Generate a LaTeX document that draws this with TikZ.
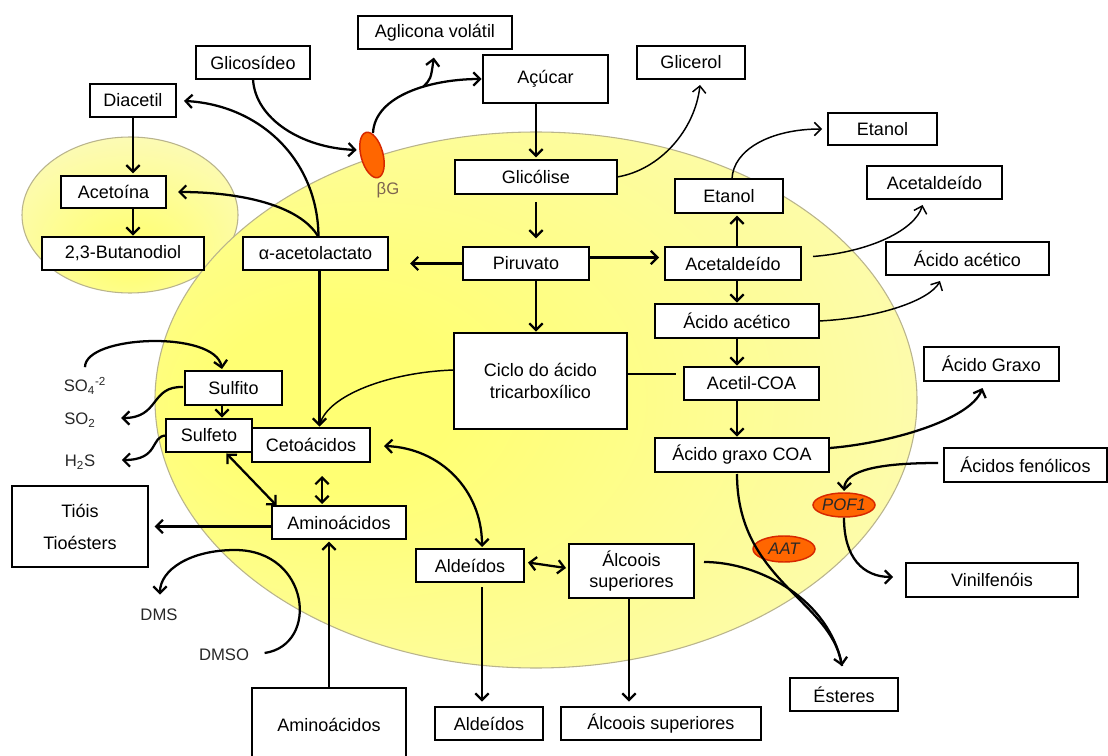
\documentclass[tikz,border=0pt]{standalone}
\usepackage{fontspec}
\setmainfont{Liberation Sans}
\usetikzlibrary{arrows.meta,shapes.geometric,calc}
\definecolor{cin}{RGB}{255,255,115}
\definecolor{cout}{RGB}{251,249,208}
\definecolor{cellline}{RGB}{185,180,140}
\definecolor{enzfill}{RGB}{255,102,0}
\definecolor{enzline}{RGB}{215,40,0}
\definecolor{bgtext}{RGB}{125,100,80}
\definecolor{labtext}{RGB}{40,40,40}
\pgfdeclareradialshading{cellshade}{\pgfpoint{-15bp}{0bp}}{color(0bp)=(cin); color(8bp)=(cin); color(50bp)=(cout); color(75bp)=(cout)}
\pgfdeclareradialshading{smallshade}{\pgfpoint{0bp}{-14bp}}{color(0bp)=(cin); color(4bp)=(cin); color(45bp)=(cout); color(75bp)=(cout)}
\newcommand{\bx}[6]{\node[box, minimum width={(#4-#2)*0.75pt}, minimum height={(#5-#3)*0.75pt}] (#1) at ({(#2+#4)/2},{(#3+#5)/2}) {#6};}
\begin{document}
\begin{tikzpicture}[x=0.75pt,y=-0.75pt,
  box/.style={draw, line width=1.25pt, fill=white, inner sep=0pt, outer sep=0pt, align=center, font=\fontsize{13.5}{16}\selectfont},
  ln/.style={line width=1.7pt},
  thinln/.style={line width=1.1pt},
  lab/.style={font=\fontsize{12.5}{14}\selectfont, text=labtext, inner sep=1pt},
  enz/.style={ellipse, draw=enzline, line width=1.1pt, fill=enzfill, inner sep=0pt, text=labtext, font=\fontsize{12.5}{14}\selectfont\itshape},
  >={Straight Barb[length=5pt,width=10pt]}
]
\useasboundingbox (0,0) rectangle (1108,756);
\fill[white] (0,0) rectangle (1108,756);
% cells
\shade[shading=smallshade] (130,215) ellipse [x radius=81pt, y radius=58.5pt];
\draw[cellline, line width=0.8pt] (130,215) ellipse [x radius=81pt, y radius=58.5pt];
\shade[shading=cellshade] (536,400) ellipse [x radius=285.75pt, y radius=201pt];
\draw[cellline, line width=0.8pt] (536,400) ellipse [x radius=285.75pt, y radius=201pt];

% boxes
\bx{agl}{358}{16}{512}{49}{Aglicona volátil}
\bx{gls}{196}{46}{310}{79}{Glicosídeo}
\bx{dia}{90}{84}{176}{117}{Diacetil}
\bx{aco}{61}{176}{166}{208}{Acetoína}
\bx{but}{42}{237}{204}{270}{2,3-Butanodiol}
\bx{ala}{243}{237}{388}{270}{α-acetolactato}
\bx{acu}{483}{55}{608}{103}{Açúcar}
\bx{gcr}{637}{46}{745}{79}{Glicerol}
\bx{gli}{455}{160}{617}{194}{Glicólise}
\bx{eti}{675}{179}{783}{213}{Etanol}
\bx{eto}{828}{113}{937}{145}{Etanol}
\bx{alo}{867}{166}{1002}{199}{Acetaldeído}
\bx{aao}{886}{242}{1049}{275}{Ácido acético}
\bx{agx}{924}{347}{1059}{381}{Ácido Graxo}
\bx{pir}{463}{247}{589}{280}{Piruvato}
\bx{ali}{665}{247}{801}{280}{Acetaldeído}
\bx{aai}{655}{304}{819}{338}{Ácido acético}
\bx{acl}{684}{367}{819}{400}{Acetil-COA}
\bx{agc}{655}{438}{829}{472}{Ácido graxo COA}
\bx{cic}{454}{333}{627}{429}{Ciclo do ácido\\tricarboxílico}
\bx{sfi}{185}{371}{282}{405}{Sulfito}
\bx{sfe}{166}{419}{252}{452}{Sulfeto}
\bx{cet}{252}{428}{370}{462}{Cetoácidos}
\bx{ami}{272}{506}{406}{539}{Aminoácidos}
\bx{tio}{12}{486}{148}{567}{Tióis\\[8pt]Tioésters}
\bx{amb}{252}{688}{406}{762}{Aminoácidos}
\bx{ldi}{416}{549}{524}{582}{Aldeídos}
\bx{lci}{569}{544}{694}{598}{Álcoois\\superiores}
\bx{ldo}{435}{707}{543}{740}{Aldeídos}
\bx{lco}{561}{707}{761}{740}{Álcoois superiores}
\bx{est}{790}{678}{898}{711}{Ésteres}
\bx{vin}{906}{563}{1078}{597}{Vinilfenóis}
\bx{afe}{944}{448}{1107}{482}{Ácidos fenólicos}

% plain labels
\node[lab] (so4) at (85,386) {SO\textsubscript{4}\textsuperscript{-2}};
\node[lab] (so2) at (80,420) {SO\textsubscript{2}};
\node[lab] (h2s) at (80,462) {H\textsubscript{2}S};
\node[lab] (dms) at (159,615) {DMS};
\node[lab] (dmso) at (224,655) {DMSO};

% enzymes
\node[enz, minimum width=16.5pt, minimum height=35pt, rotate=15] (bg) at (372,155) {};
\node[font=\fontsize{12.5}{14}\selectfont, text=bgtext] (bgl) at (388,190) {βG};
\node[enz, minimum width=46.5pt, minimum height=18pt] (pof) at (844,505) {POF1};
\node[enz, minimum width=46.5pt, minimum height=19.5pt] (aat) at (784,549) {AAT};

% connectors (top-left)
\draw[ln,->,shorten >=1pt] (gls.south) .. controls +(2,40) and +(-56,-2) .. ($(bg.center)+(-14,-5)$);
\draw[ln,->,shorten >=1pt] ($(bg.center)+(1,-22)$)
   .. controls +(2,-38) and +(-51,0) .. (acu.west) coordinate[pos=0.6] (br);
\draw[ln,->,shorten >=6.5pt] (br) .. controls +(8,-8) .. (agl.south);
\draw[ln,->,shorten >=6pt] ($(ala.north)+(3,0)$) .. controls (318,160) and (260,105) .. (dia.east);
\draw[ln,->,shorten >=9pt] ($(ala.north)+(3,0)$) .. controls (300,205) and (240,192) .. (aco.east);
\draw[ln,->,shorten >=2pt] (dia.south) -- (dia.south |- aco.north);
\draw[ln,->,shorten >=1pt] (dia.south |- aco.south) -- (dia.south |- but.north);

% central column
\draw[ln,->,shorten >=2pt] (gli.north |- acu.south) -- (gli.north);
\draw[ln,->,shorten <=6pt,shorten >=6.5pt] (gli.south) -- (gli.south |- pir.north);
\draw[ln,->,shorten >=1pt] (gli.south |- pir.south) -- (gli.south |- cic.north);
\draw[ln,->,shorten >=16.5pt] (pir.west) -- (pir.west -| ala.east);
\draw[ln,->] ($(pir.east)+(0,-6)$) -- ($(ali.west)+(-6,-6)$);
\draw[thinln,->] (gli.east) .. controls (660,170) and (695,130) .. ($(gcr.south)+(9,6)$);

% right column
\draw[ln,->,shorten >=2pt] (aai.north |- ali.north) -- (aai.north |- eti.south);
\draw[ln,->,shorten >=1pt] (aai.north |- ali.south) -- (aai.north);
\draw[ln,->,shorten >=1pt] (aai.south) -- (aai.south |- acl.north);
\draw[ln,->,shorten >=1pt] (aai.south |- acl.south) -- (aai.south |- agc.north);
\draw[thinln,->,shorten >=4.5pt] ($(eti.north)+(3,0)$) .. controls (733,150) and (770,129) .. (eto.west);
\draw[thinln,->] ($(ali.east)+(12,-7)$) .. controls (870,252) and (915,230) .. ($(alo.south)+(-12,6)$);
\draw[thinln,->] (aai.east) .. controls (880,318) and (930,300) .. ($(aao.south)+(-27.5,6)$);
\draw[ln,->] ($(agc.east)+(1,-7)$) .. controls (890,443) and (970,420) .. ($(agx.south)+(-9,7)$);
\draw[thinln] ($(cic.east)+(0,-7)$) -- ($(acl.west)+(-8,-9.5)$);

% enzymes side
\draw[ln,->,shorten >=1pt] ($(afe.west)+(-6,-2)$) .. controls (880,463) and (845,470) .. (pof.north);
\draw[ln,->] (pof.south) .. controls +(0,40) and +(-30,0) .. ($(vin.west)+(-13,-3)$);
\draw[ln,->] ($(agc.south)+(-5,2)$) .. controls (737,580) and (830,600) .. ($(est.north)+(-2,-12)$);
\draw[ln] ($(lci.east)+(10,-9)$) .. controls (760,562) and (830,600) .. ($(est.north)+(-2,-12)$);

% lower left
\draw[thinln] ($(cic.west)+(0,-11)$) .. controls (390,372) and (328,395) .. ($(cet.north)+(9,-4)$);
\draw[ln,->,shorten >=1pt] ($(ala.south)+(4,0)$) -- ($(cet.north)+(8.5,0)$);
\draw[ln,<->] ($(cet.east)+(14,1)$) .. controls (440,448) and (482,490) .. ($(ldi.north)+(12,-2)$);
\draw[ln,<->,shorten <=10.5pt,shorten >=1.5pt] ($(cet.south)+(11,0)$) -- ($(ami.north)+(-17,0)$);
\draw[ln,<->,shorten <=0.5pt,shorten >=0.5pt] ($(sfe.south east)+(-26,1)$) -- ($(ami.north west)+(5,0)$);
\draw[ln,->,shorten >=5pt] (ami.west |- tio.east) -- (tio.east);
\draw[ln,->,shorten >=2pt] (amb.north) -- (amb.north |- ami.south);
\draw[ln,->,shorten >=1pt] ($(sfi.south)+(-11.5,0)$) -- ($(sfi.south)+(-11.5,14)$);
\draw[ln,->] ($(so4.north)+(0,-9)$) .. controls (85,335) and (215,330) .. ($(sfi.north)+(-11.5,-2)$);
\draw[ln,->] ($(sfi.west)+(-2,-1)$) .. controls (150,386) and (160,418) .. ($(so2.east)+(24,-2)$);
\draw[ln,->] (sfe.west) .. controls (150,436) and (160,460) .. ($(h2s.east)+(25,-2)$);
\draw[ln,->] ($(dmso.east)+(14,-2)$) .. controls (320,645) and (310,550) .. (235,550)
   .. controls (190,550) and (160,570) .. ($(dms.north)+(1,-13)$);
\draw[ln,<->] ($(ldi.east)+(4,-3)$) -- ($(lci.west)+(-3,-3)$);
\draw[ln,->,shorten <=4pt,shorten >=4pt] (ldi.south -| 482,0) -- (ldo.north -| 482,0);
\draw[ln,->,shorten >=4pt] (lci.south -| 629,0) -- (lco.north -| 629,0);
\end{tikzpicture}
\end{document}
